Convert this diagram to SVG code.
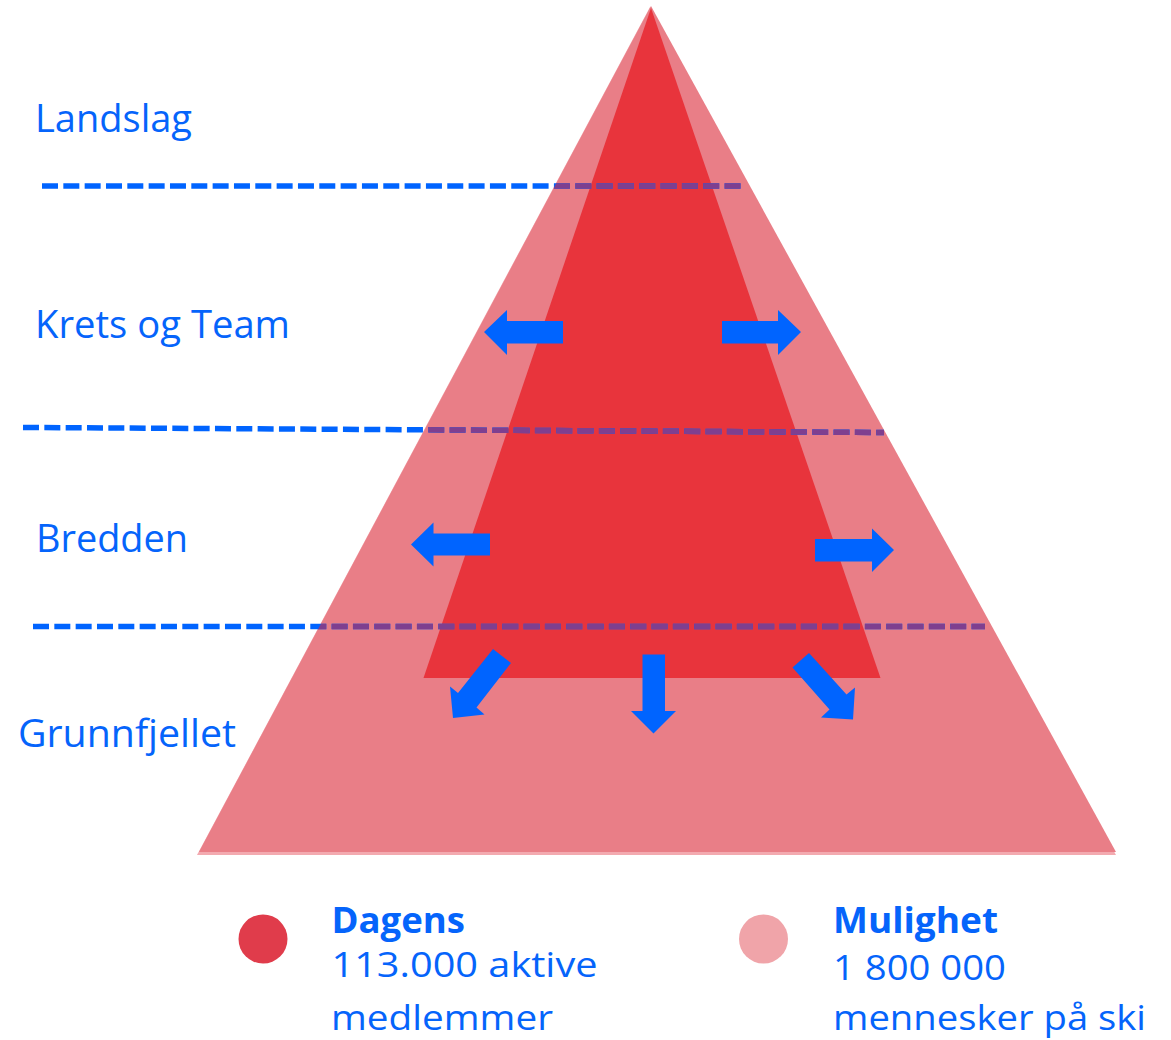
<svg xmlns="http://www.w3.org/2000/svg" width="1171" height="1040" viewBox="0 0 1171 1040">
<style>
.lbl{font-family:"Open Sans","Noto Sans","Liberation Sans",sans-serif;fill:#0564FB;font-size:39px}
.leg{font-family:"Open Sans","Noto Sans","Liberation Sans",sans-serif;fill:#0564FB;font-size:35px}
.b{font-weight:bold}
.dash{fill:none;stroke-width:5.5;stroke-dasharray:16 5.33}
.blue{stroke:#0064FF}
.purp{stroke:#7F3F8F}
.arr{fill:#0064FF}
</style>
<defs>
<clipPath id="tri"><polygon points="651,6 1116,852 199,852"/></clipPath>
</defs>
<rect width="1171" height="1040" fill="#FFFFFF"/>
<g id="pyramid">
<polygon points="650,7 1116,855 197,855" fill="#F3AAB0"/>
<polygon points="651,6 1116,852 199,852" fill="#E97E87"/>
<polygon points="651,8 880.5,678 423.5,678" fill="#E8343C"/>
</g>
<g id="connectors">
<line class="dash blue" x1="42" y1="186" x2="742" y2="186"/>
<line class="dash blue" x1="23" y1="427.5" x2="884" y2="432.5"/>
<line class="dash blue" x1="33" y1="626.5" x2="985" y2="626.5"/>
<g clip-path="url(#tri)">
<line class="dash purp" x1="42" y1="186" x2="742" y2="186"/>
<line class="dash purp" x1="23" y1="427.5" x2="884" y2="432.5"/>
<line class="dash purp" x1="33" y1="626.5" x2="985" y2="626.5"/>
</g>
</g>
<g id="arrows">
<polygon class="arr" points="563,321 507,321 507,310 484,332 507,355 507,343.5 563,343.5"/>
<polygon class="arr" points="722,321 778,321 778,310 801,332 778,355 778,343.5 722,343.5"/>
<polygon class="arr" points="490,533.5 433.5,533.5 433.5,522.5 411,544.5 433.5,566.5 433.5,555.5 490,555.5"/>
<polygon class="arr" points="815,539 872,539 872,528.5 894,550 872,572 872,561.5 815,561.5"/>
<polygon class="arr" points="493,649 511,663 476.5,707.5 484.5,714.5 453,718 450,686.5 458,693"/>
<polygon class="arr" points="642.5,654.5 665,654.5 665,711 676,711 653.5,733.5 631,711 642.5,711"/>
<polygon class="arr" points="809,653 846.5,694.5 855,687.5 853,719.5 821,717.5 829.5,709.5 792.5,667.5"/>
</g>
<g id="labels">
<text class="lbl" x="35" y="132" textLength="157" lengthAdjust="spacingAndGlyphs">Landslag</text>
<text class="lbl" x="35" y="338" textLength="255" lengthAdjust="spacingAndGlyphs">Krets og Team</text>
<text class="lbl" x="36" y="552" textLength="152" lengthAdjust="spacingAndGlyphs">Bredden</text>
<text class="lbl" x="18" y="747" textLength="218" lengthAdjust="spacingAndGlyphs">Grunnfjellet</text>
</g>
<g id="legend-dagens">
<circle cx="263" cy="939" r="24.5" fill="#E03C4B"/>
<text class="leg b" x="331.5" y="933" textLength="133.5" lengthAdjust="spacingAndGlyphs">Dagens</text>
<text class="leg" x="331.5" y="977" textLength="266" lengthAdjust="spacingAndGlyphs">113.000 aktive</text>
<text class="leg" x="331" y="1030" textLength="222" lengthAdjust="spacingAndGlyphs">medlemmer</text>
</g>
<g id="legend-mulighet">
<circle cx="763.5" cy="939" r="24.5" fill="#F0A4A9"/>
<text class="leg b" x="833" y="933" textLength="165" lengthAdjust="spacingAndGlyphs">Mulighet</text>
<text class="leg" x="833" y="980" textLength="173" lengthAdjust="spacingAndGlyphs">1 800 000</text>
<text class="leg" x="833" y="1030" font-size="34" textLength="313" lengthAdjust="spacingAndGlyphs">mennesker på ski</text>
</g>
</svg>
